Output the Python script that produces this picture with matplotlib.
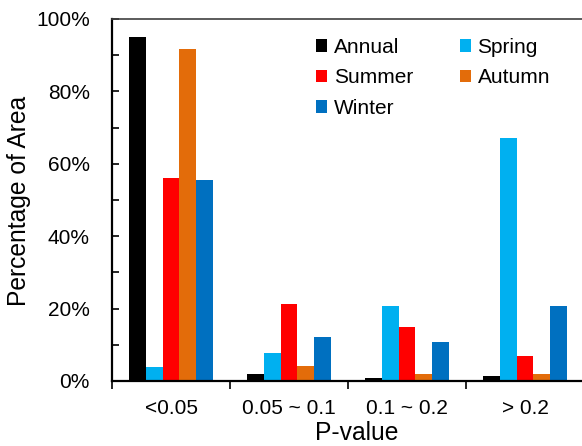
import matplotlib
matplotlib.use("Agg")
import matplotlib.pyplot as plt
import numpy as np

categories = ["<0.05", "0.05 ~ 0.1", "0.1 ~ 0.2", "> 0.2"]
series_names = ["Annual", "Spring", "Summer", "Autumn", "Winter"]
annual = [95.1, 1.9, 0.9, 1.4]
spring = [3.8, 7.6, 20.7, 67.2]
summer = [56.2, 21.2, 14.9, 7.0]
autumn = [91.6, 4.1, 1.8, 1.8]
winter = [55.5, 12.1, 10.9, 20.7]
colors = ["#000000", "#00B0F0", "#FF0000", "#E36C0A", "#0070C0"]

plt.rcParams['font.family'] = ['Liberation Sans', 'DejaVu Sans']

W, H = 582, 446
fig = plt.figure(figsize=(W / 100, H / 100), dpi=100)
ax = fig.add_axes([112 / W, 65 / H, 472 / W, 362 / H])

data = [annual, spring, summer, autumn, winter]
x = np.arange(len(categories)) + 0.5
bw = 0.1415
handles = {}
for i, (name, vals, c) in enumerate(zip(series_names, data, colors)):
    b = ax.bar(x + (i - 2) * bw, vals, width=bw, color=c, label=name,
               edgecolor='none')
    handles[name] = b

ax.set_xlim(0, 4)
ax.set_ylim(0, 100)

# y axis
ax.set_yticks(np.arange(0, 101, 20))
ax.set_yticklabels([f"{v}%" for v in range(0, 101, 20)])
ax.set_yticks(np.arange(0, 101, 10), minor=True)
ax.tick_params(axis='y', which='both', direction='in', length=5, width=1.2,
               labelsize=15, pad=16)

# x axis
ax.set_xticks([0, 1, 2, 3])
ax.set_xticklabels([])
ax.set_xticks(x, minor=True)
ax.set_xticklabels(categories, minor=True)
ax.tick_params(axis='x', which='major', direction='out', length=6, width=1.2)
ax.tick_params(axis='x', which='minor', length=0, labelsize=15, pad=13)

for s in ['left', 'bottom']:
    ax.spines[s].set_linewidth(1.6)
    ax.spines[s].set_color('black')
ax.spines['top'].set_linewidth(1.2)
ax.spines['top'].set_color('#404040')
ax.spines['right'].set_visible(False)

fig.text(19 / W, (H - 201) / H, "Percentage of Area", rotation=90,
         ha='center', va='center', fontsize=17.7)
fig.text(357 / W, (H - 433) / H, "P-value", ha='center', va='center',
         fontsize=17.7)

order = ["Annual", "Summer", "Winter", "Spring", "Autumn"]
leg = ax.legend([handles[n] for n in order], order, ncol=2, frameon=False,
                fontsize=15, handlelength=0.55, handleheight=0.55,
                handletextpad=0.3, columnspacing=2.25, labelspacing=0.55,
                loc='upper left', bbox_to_anchor=(204 / 472, 1 - 19 / 362),
                borderaxespad=0, borderpad=0)

fig.savefig("out.png", dpi=100)
